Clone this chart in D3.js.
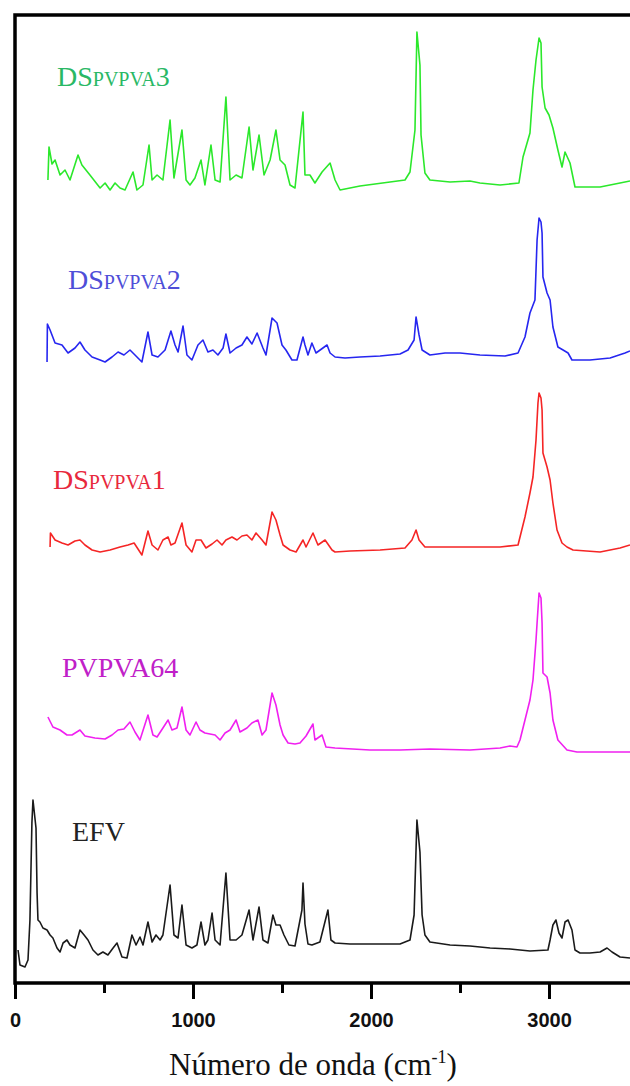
<!DOCTYPE html>
<html>
<head>
<meta charset="utf-8">
<script src="https://cdn.jsdelivr.net/npm/d3@7/dist/d3.min.js"></script>
<style>
  html, body { margin: 0; padding: 0; background: #fff; }
  svg { display: block; }
</style>
</head>
<body>
<svg id="chart" width="630" height="1086"></svg>
<script>
// ---------------- DATA (wavenumber cm-1, relative intensity a.u.) ----------------
const seriesNames = ["EFV", "PVPVA64", "DSPVPVA1", "DSPVPVA2", "DSPVPVA3"];
const seriesOffsets = [38, 233, 433, 626, 797];

const efv = [
  [17,-5],[28,-20],[56,-22],[73,-15],[84,25],[95,122],[101,145],[118,117],[124,52],[129,25],
  [140,23],[157,17],[180,15],[197,10],[213,7],[236,-3],[253,-7],[270,2],[292,5],[309,0],
  [337,-3],[365,15],[388,10],[410,5],[438,-5],[466,-10],[494,-7],[522,-10],[551,-3],[573,2],
  [601,-12],[629,-13],[657,10],[680,0],[702,8],[719,0],[747,23],[770,3],[792,10],[815,5],
  [831,10],[871,60],[893,10],[916,7],[938,40],[961,0],[994,-3],[1022,0],[1045,23],[1067,0],
  [1084,5],[1107,32],[1124,5],[1152,0],[1185,72],[1208,5],[1242,5],[1275,10],[1315,35],[1337,5],
  [1371,38],[1393,5],[1421,2],[1449,30],[1466,20],[1489,20],[1511,10],[1539,0],[1573,-1],[1612,35],
  [1618,62],[1629,21],[1646,1],[1668,0],[1713,3],[1758,35],[1775,5],[1798,2],[1882,1],[1994,1],
  [2163,1],[2219,5],[2242,30],[2258,125],[2275,93],[2287,30],[2303,10],[2331,3],[2444,0],[2556,-1],
  [2669,-3],[2781,-4],[2893,-6],[2994,-5],[3006,5],[3022,20],[3039,25],[3056,12],[3073,7],[3090,23],
  [3107,25],[3129,15],[3146,-5],[3174,-8],[3230,-8],[3287,-7],[3326,-3],[3354,-7],[3399,-12],[3455,-13]
];

const pvpva64 = [
  [185,33],[213,23],[253,20],[292,15],[320,15],[365,20],[393,14],[449,12],[506,11],[545,15],
  [579,20],[612,21],[646,28],[674,18],[702,10],[747,35],[775,15],[798,13],[831,22],[860,30],
  [882,20],[910,22],[938,43],[961,20],[983,15],[1017,28],[1039,20],[1067,17],[1124,15],[1152,10],
  [1180,17],[1208,20],[1242,30],[1264,18],[1303,22],[1331,27],[1365,30],[1388,15],[1410,20],[1444,57],
  [1466,45],[1489,25],[1506,15],[1534,7],[1573,6],[1601,7],[1635,14],[1674,26],[1685,10],[1725,15],
  [1747,3],[1798,2],[1994,0],[2163,0],[2331,1],[2556,0],[2725,2],[2781,4],[2820,3],[2837,10],
  [2865,30],[2893,50],[2910,70],[2927,110],[2933,127],[2944,157],[2955,152],[2961,127],[2966,77],[2989,73],
  [3006,57],[3022,30],[3050,10],[3101,0],[3157,-2],[3287,-2],[3455,-2]
];

const ds1 = [
  [197,3],[199,17],[225,10],[264,7],[298,5],[337,9],[365,10],[393,5],[433,0],[478,-2],
  [534,0],[590,3],[635,5],[669,7],[691,1],[713,-5],[747,19],[770,5],[803,0],[831,10],
  [860,13],[876,5],[899,7],[938,27],[961,5],[994,-2],[1017,10],[1045,10],[1073,2],[1107,6],
  [1135,10],[1163,5],[1185,10],[1219,13],[1247,10],[1275,14],[1303,15],[1331,10],[1354,17],[1388,10],
  [1410,5],[1444,38],[1466,30],[1489,15],[1506,5],[1545,0],[1579,-2],[1618,10],[1635,3],[1674,17],
  [1702,5],[1742,10],[1781,0],[1798,-2],[1882,-1],[2051,0],[2191,2],[2230,10],[2253,20],[2270,10],
  [2303,3],[2388,3],[2556,3],[2725,3],[2826,5],[2865,33],[2893,57],[2910,73],[2927,110],[2938,147],
  [2944,157],[2955,152],[2961,140],[2966,97],[2989,83],[3006,70],[3022,47],[3045,20],[3073,7],[3101,3],
  [3135,0],[3287,-2],[3399,2],[3455,5]
];

const ds2 = [
  [180,-5],[182,33],[197,27],[225,14],[264,12],[298,4],[337,9],[365,15],[393,7],[433,0],
  [478,-3],[506,-5],[545,0],[579,5],[612,2],[646,7],[674,2],[713,-5],[747,25],[770,2],
  [803,0],[843,7],[876,26],[899,12],[916,5],[944,31],[966,2],[994,-3],[1028,12],[1056,17],
  [1084,5],[1112,7],[1140,2],[1169,9],[1185,23],[1208,4],[1242,9],[1275,12],[1303,20],[1331,13],
  [1360,24],[1393,9],[1410,2],[1444,39],[1472,34],[1500,12],[1522,7],[1556,-3],[1584,-3],[1618,20],
  [1629,12],[1646,2],[1668,14],[1691,4],[1753,12],[1770,4],[1798,0],[1854,-1],[1938,0],[2051,1],
  [2163,3],[2208,7],[2242,17],[2253,40],[2270,22],[2287,7],[2331,2],[2416,4],[2500,4],[2612,2],
  [2753,1],[2826,4],[2865,20],[2893,44],[2921,57],[2933,117],[2944,139],[2955,135],[2961,124],[2966,80],
  [2989,64],[3006,57],[3022,30],[3050,10],[3079,7],[3107,4],[3129,-3],[3230,-3],[3343,-1],[3427,4],
  [3455,6]
];

const ds3 = [
  [185,6],[191,39],[208,22],[225,26],[253,11],[281,16],[309,6],[354,31],[376,21],[421,11],
  [478,-2],[506,3],[534,-4],[562,3],[590,-2],[618,-4],[663,14],[685,-4],[719,1],[753,41],
  [770,6],[798,11],[831,6],[871,66],[893,8],[938,56],[961,6],[983,1],[1011,8],[1045,26],
  [1067,1],[1101,41],[1124,6],[1152,4],[1185,89],[1208,6],[1242,11],[1275,8],[1315,59],[1337,16],
  [1371,51],[1399,11],[1433,26],[1466,56],[1489,26],[1517,21],[1545,1],[1573,-2],[1618,74],[1629,11],
  [1657,11],[1685,3],[1725,14],[1770,23],[1798,6],[1826,-4],[1938,0],[2107,4],[2191,6],[2219,14],
  [2247,56],[2258,154],[2275,121],[2281,51],[2303,13],[2331,6],[2444,4],[2556,5],[2612,3],[2725,1],
  [2831,3],[2854,29],[2893,53],[2910,96],[2927,126],[2944,148],[2955,143],[2961,99],[2978,78],[3000,71],
  [3022,58],[3050,36],[3073,19],[3090,34],[3118,23],[3146,-1],[3287,-1],[3399,3],[3455,5]
];

const seriesData = [efv, pvpva64, ds1, ds2, ds3];
const majorTicks = [0, 1000, 2000, 3000];
const minorTicks = [500, 1500, 2500];
const xTitle = "Número de onda (cm";

// ---------------- STYLE / LAYOUT ----------------
const lineColors  = ["#1a1a1a", "#f020f0", "#f52525", "#2626f0", "#2be82b"];
const labelColors = ["#222222", "#c020c8", "#e8283c", "#4e4ed8", "#29b865"];
// label anchors in px (left x, baseline y)
const labelAnchors = [[72, 841], [62, 677], [53, 489], [68, 289], [57, 86]];

const svg = d3.select("#chart");
const L = 15, T = 15, B = 983, R = 630;

const x = d3.scaleLinear().domain([0, 3455]).range([L, R]);
const y = d3.scaleLinear().domain([0, 968]).range([B, T]);

// spectra
seriesData.forEach((data, i) => {
  const off = seriesOffsets[i];
  const line = d3.line()
    .x(d => x(d[0]))
    .y(d => y(d[1] + off));
  svg.append("path")
    .datum(data)
    .attr("d", line)
    .attr("fill", "none")
    .attr("stroke", lineColors[i])
    .attr("stroke-width", 1.6)
    .attr("stroke-linejoin", "round");
});

// frame (top, left, bottom)
svg.append("path")
  .attr("d", `M${R},${T} L${L},${T} L${L},${B} L${R},${B}`)
  .attr("fill", "none")
  .attr("stroke", "#000")
  .attr("stroke-width", 3.5)
  .attr("stroke-linecap", "square");

// axes
const gx = svg.append("g").attr("transform", `translate(0,${B + 1})`);
gx.call(d3.axisBottom(x).tickValues(majorTicks).tickSize(15).tickPadding(14).tickFormat(d3.format("d")));
const gm = svg.append("g").attr("transform", `translate(0,${B + 1})`);
gm.call(d3.axisBottom(x).tickValues(minorTicks).tickSize(9).tickFormat(""));
[gx, gm].forEach(g => {
  g.select(".domain").remove();
  g.selectAll(".tick line").attr("stroke", "#000").attr("stroke-width", 3);
});
gx.selectAll(".tick text")
  .attr("fill", "#111")
  .style("font-family", "'Liberation Sans', Arial, sans-serif")
  .style("font-weight", "bold")
  .style("font-size", "20px");

// x title
const title = svg.append("text")
  .attr("x", 313).attr("y", 1075)
  .attr("text-anchor", "middle")
  .style("font-family", "'Liberation Serif', 'Times New Roman', serif")
  .style("font-size", "31px")
  .attr("fill", "#111");
title.append("tspan").text(xTitle);
title.append("tspan").text("-1").attr("dy", -12).style("font-size", "18px");
title.append("tspan").text(")").attr("dy", 12);

// series labels
const labelParts = [
  [["EFV", 28]],
  [["PVPVA64", 28]],
  [["DS", 28], ["PVPVA", 20], ["1", 28]],
  [["DS", 28], ["PVPVA", 20], ["2", 28]],
  [["DS", 28], ["PVPVA", 20], ["3", 28]]
];
labelParts.forEach((parts, i) => {
  const t = svg.append("text")
    .attr("x", labelAnchors[i][0]).attr("y", labelAnchors[i][1])
    .style("font-family", "'Liberation Serif', 'Times New Roman', serif")
    .attr("fill", labelColors[i]);
  parts.forEach(p => t.append("tspan").text(p[0]).style("font-size", p[1] + "px"));
});
</script>
</body>
</html>
